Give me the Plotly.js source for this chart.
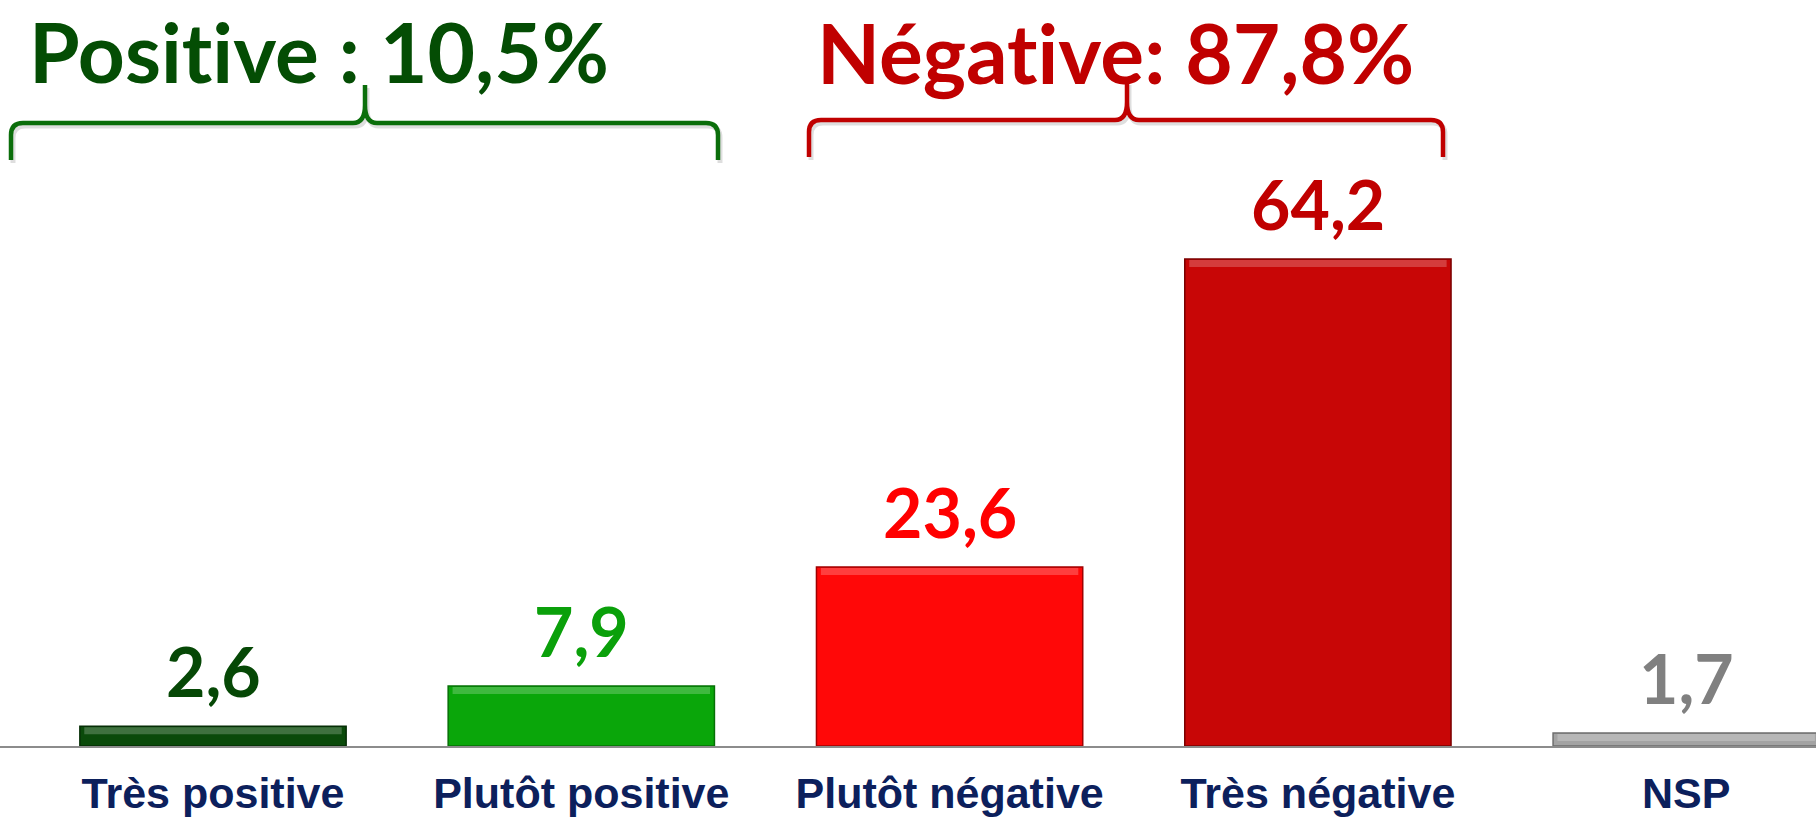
<!DOCTYPE html>
<html><head><meta charset="utf-8">
<script src="https://cdn.plot.ly/plotly-3.0.1.min.js"></script>
<style>html,body{margin:0;padding:0;background:#fff;overflow:hidden}#chart{width:1816px;height:819px}
svg text{font-variant-ligatures:none !important;font-feature-settings:"liga" 0,"clig" 0 !important}</style>
</head><body><div id="chart"></div>
<script>
// ---- data ----
const categories = ["Très positive", "Plutôt positive", "Plutôt négative", "Très négative", "NSP"];
const values = [2.6, 7.9, 23.6, 64.2, 1.7];
const valueLabels = ["2,6", "7,9", "23,6", "64,2", "1,7"];
const barColors = ["#0a4a0a", "#0aa60a", "#ff0808", "#c80606", "#a3a3a3"];
const barEdgeColors = ["#062e06", "#067006", "#a00000", "#7a0000", "#6e6e6e"];
const labelColors = ["#064806", "#0aa00a", "#ff0000", "#c00000", "#808080"];
const groupTitles = ["Positive : 10,5%", "Négative: 87,8%"];
const groupColors = ["#044d04", "#c00000"];
const braceColors = ["#0b6e0b", "#c00000"];

// ---- layout geometry ----
const W = 1816, H = 819, MB = 73;
const PH = H - MB;               // plot height in px
const px = x => x / W;            // pixel -> paper x
const py = y => (PH - y) / PH;    // pixel -> paper y
const BARGAP = 0.277;

function bracePath(x0, x1, xm, yl, ytop, yb, r) {
  return `M ${px(x0)} ${py(yb)} L ${px(x0)} ${py(yl + r)} Q ${px(x0)} ${py(yl)} ${px(x0 + r)} ${py(yl)} ` +
         `L ${px(xm - r)} ${py(yl)} Q ${px(xm)} ${py(yl)} ${px(xm)} ${py(yl - 18)} L ${px(xm)} ${py(ytop)} ` +
         `L ${px(xm)} ${py(yl - 18)} Q ${px(xm)} ${py(yl)} ${px(xm + r)} ${py(yl)} ` +
         `L ${px(x1 - r)} ${py(yl)} Q ${px(x1)} ${py(yl)} ${px(x1)} ${py(yl + r)} L ${px(x1)} ${py(yb)}`;
}
const braces = [
  {x0: 11, x1: 718, xm: 365, yl: 123, ytop: 85, yb: 160},
  {x0: 809, x1: 1443, xm: 1127, yl: 120, ytop: 82, yb: 157}
];
const shapes = [];
braces.forEach((b, i) => {
  shapes.push({type: 'path', xref: 'paper', yref: 'paper',
    path: bracePath(b.x0 + 2, b.x1 + 2, b.xm + 2, b.yl + 3, b.ytop + 3, b.yb + 3, 12),
    line: {color: 'rgba(0,0,0,0.13)', width: 5}});
  shapes.push({type: 'path', xref: 'paper', yref: 'paper',
    path: bracePath(b.x0, b.x1, b.xm, b.yl, b.ytop, b.yb, 12),
    line: {color: braceColors[i], width: 4.5}});
});
// bevel highlight along the top of every bar, anchored on the bar's value
const hw = (1 - BARGAP) / 2;
values.forEach((v, i) => {
  shapes.push({type: 'rect', xref: 'x', yref: 'y', x0: i - hw + 0.012, x1: i + hw - 0.012,
    ysizemode: 'pixel', yanchor: v, y0: -8, y1: -1,
    fillcolor: 'rgba(255,255,255,0.22)', line: {width: 0}, layer: 'above'});
});

const annotations = [];
categories.forEach((c, i) => {
  annotations.push({x: c, y: values[i], xref: 'x', yref: 'y', text: valueLabels[i],
    showarrow: false, yanchor: 'bottom', yshift: 13,
    font: {family: 'Lato, Carlito, sans-serif', size: 68, weight: 700, color: labelColors[i]}});
});
const titlePos = [{x: 27, y: 0}, {x: 815, y: 1}];
groupTitles.forEach((t, i) => {
  annotations.push({x: px(titlePos[i].x), y: py(titlePos[i].y), xref: 'paper', yref: 'paper',
    text: t, showarrow: false, xanchor: 'left', yanchor: 'top',
    font: {family: 'Lato, Carlito, sans-serif', size: 82, weight: 700, color: groupColors[i]}});
});

const trace = {
  type: 'bar', x: categories, y: values,
  marker: {color: barColors, line: {color: barEdgeColors, width: 1.5}},
  hoverinfo: 'skip'
};

const pxPerUnit = 7.586;
const step = 368.3, c0 = 213;
const layout = {
  width: W, height: H,
  margin: {l: 0, r: 0, t: 0, b: MB, pad: 0},
  paper_bgcolor: '#ffffff', plot_bgcolor: '#ffffff',
  bargap: BARGAP,
  showlegend: false,
  xaxis: {type: 'category', range: [-c0 / step, (W - c0) / step], showgrid: false, zeroline: false,
    showline: true, linecolor: '#8c8c8c', linewidth: 2, ticks: '', ticklabelstandoff: 8,
    tickfont: {family: '"Liberation Sans", Arial, sans-serif', size: 43, weight: 700, color: '#0c205c'},
    fixedrange: true},
  yaxis: {range: [0, PH / pxPerUnit], visible: false, showgrid: false, zeroline: false, fixedrange: true},
  shapes: shapes,
  annotations: annotations
};
Plotly.newPlot('chart', [trace], layout, {displayModeBar: false, staticPlot: true});
</script></body></html>
